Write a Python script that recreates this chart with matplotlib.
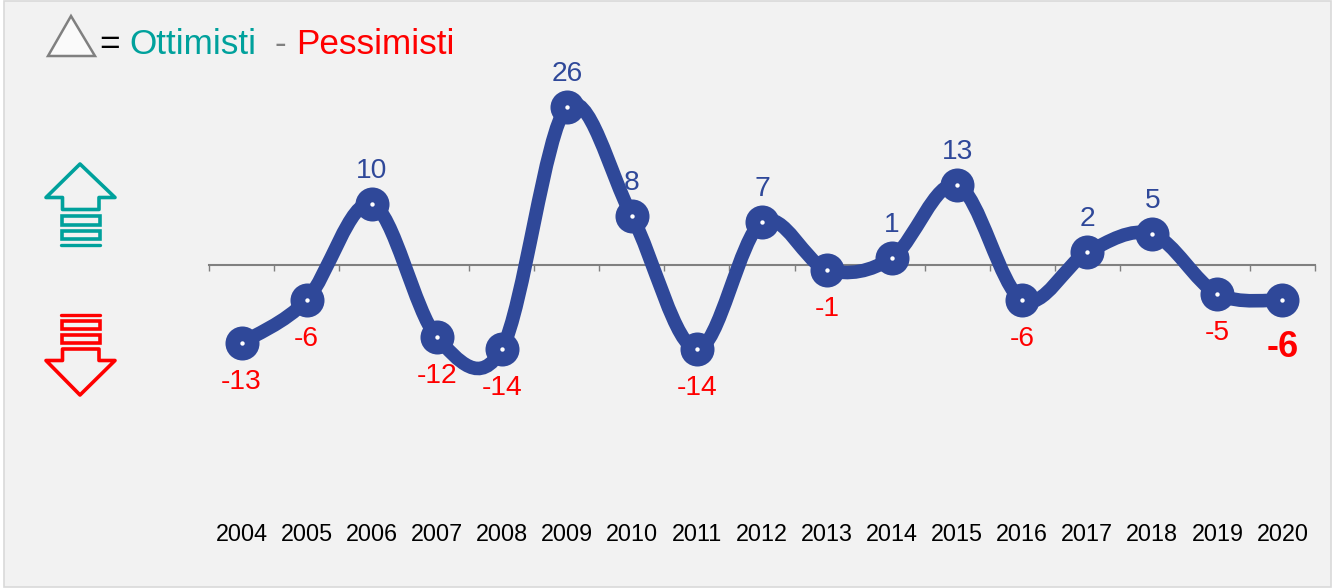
import matplotlib
matplotlib.use("Agg")
import matplotlib.pyplot as plt
from matplotlib.patches import PathPatch, Polygon, Rectangle
from matplotlib.path import Path

plt.rcParams['font.family'] = ['Liberation Sans', 'DejaVu Sans']

years = ['2004', '2005', '2006', '2007', '2008', '2009', '2010', '2011', '2012',
         '2013', '2014', '2015', '2016', '2017', '2018', '2019', '2020']
saldo = [-12.9, -5.8, 10.1, -11.9, -13.9, 26.1, 8.1, -13.9, 7.1,
         -0.8, 1.2, 13.2, -5.8, 2.1, 5.1, -4.8, -5.8]

BLUE = '#2F4899'
TEAL = '#00A19C'
RED = '#FF0000'
GRAY = '#808080'
BG = '#F2F2F2'
W, H = 1332, 588


def smooth_path(xs, ys):
    # excel style smoothed line, bezier segments through every point
    verts = [(xs[0], ys[0])]
    codes = [Path.MOVETO]
    n = len(xs)
    for i in range(n - 1):
        prev = max(i - 1, 0)
        nxt = min(i + 2, n - 1)
        c1 = (xs[i] + (xs[i + 1] - xs[prev]) / 6, ys[i] + (ys[i + 1] - ys[prev]) / 6)
        c2 = (xs[i + 1] - (xs[nxt] - xs[i]) / 6, ys[i + 1] - (ys[nxt] - ys[i]) / 6)
        verts += [c1, c2, (xs[i + 1], ys[i + 1])]
        codes += [Path.CURVE4] * 3
    return Path(verts, codes)


def main():
    fig = plt.figure(figsize=(W / 100, H / 100), dpi=100, facecolor='white')

    # pixel overlay for background and the little icons
    bg = fig.add_axes([0, 0, 1, 1], zorder=0)
    bg.set_xlim(0, W)
    bg.set_ylim(H, 0)
    bg.axis('off')
    bg.add_patch(Rectangle((3.5, 0.5), W - 4.5, H - 1.5, fc=BG, ec='#D9D9D9', lw=1.2))

    # triangle in the legend
    bg.add_patch(Polygon([(71, 16), (48, 56), (95, 56)], closed=True, fc='#FAFAFA', ec=GRAY, lw=1.8))

    # up arrow
    up = [(80, 164), (115, 197.5), (99, 197.5), (99, 209.5), (62.5, 209.5), (62.5, 197.5), (46, 197.5)]
    bg.add_patch(Polygon(up, closed=True, fc='none', ec=TEAL, lw=2.6, joinstyle='round'))
    bg.add_patch(Rectangle((62, 215.5), 38, 9, fc='none', ec=TEAL, lw=2.6))
    bg.add_patch(Rectangle((62, 231), 38, 7.5, fc='none', ec=TEAL, lw=2.6))
    bg.plot([61, 100], [244.5, 244.5], color=TEAL, lw=2.4, solid_capstyle='round')

    # down arrow
    down = [(80, 395), (115, 360.5), (99, 360.5), (99, 349), (62.5, 349), (62.5, 360.5), (46, 360.5)]
    bg.add_patch(Polygon(down, closed=True, fc='none', ec=RED, lw=2.6, joinstyle='round'))
    bg.add_patch(Rectangle((62, 321), 38, 8, fc='none', ec=RED, lw=2.6))
    bg.add_patch(Rectangle((62, 334.5), 38, 8.5, fc='none', ec=RED, lw=2.6))
    bg.plot([61, 100], [314.7, 314.7], color=RED, lw=2.4, solid_capstyle='round')

    # legend text
    bg.text(99, 54, '=', fontsize=25.3, color='black', va='baseline')
    bg.text(129, 54, 'Ottimisti', fontsize=25.3, color=TEAL, va='baseline')
    bg.text(274, 54, '-', fontsize=25.3, color=GRAY, va='baseline')
    bg.text(296, 54, 'Pessimisti', fontsize=25.3, color=RED, va='baseline')

    # chart, zero line sits at y=265 px, 6.05 px per unit
    ax = fig.add_axes([209 / W, 1 - 507 / H, (1315 - 209) / W, 484 / H], zorder=1)
    ax.patch.set_alpha(0)
    ax.set_xlim(-0.5, 16.5)
    ax.set_ylim(-40, 40)
    for side in ['top', 'left', 'right']:
        ax.spines[side].set_visible(False)
    ax.spines['bottom'].set_position(('data', 0))
    ax.spines['bottom'].set_color(GRAY)
    ax.spines['bottom'].set_linewidth(1.5)
    ax.set_yticks([])

    x = list(range(len(years)))
    ax.set_xticks([i - 0.5 for i in range(len(years) + 1)])
    ax.tick_params(axis='x', which='major', direction='out', length=4.5, width=1, color=GRAY, labelbottom=False)
    ax.set_xticks(x, minor=True)
    ax.set_xticklabels(years, minor=True, fontsize=16.8, color='black')
    ax.tick_params(axis='x', which='minor', length=0, pad=186)

    ax.add_patch(PathPatch(smooth_path(x, saldo), fc='none', ec=BLUE, lw=9.8, capstyle='round', zorder=3))
    ax.scatter(x, saldo, s=600, color=BLUE, linewidths=0, zorder=4, clip_on=False)
    ax.scatter(x, saldo, s=10, color='white', linewidths=0, zorder=5, clip_on=False)

    for i, v in enumerate(saldo):
        label = str(round(v))
        if i == len(saldo) - 1:
            ax.annotate(label, (i, v), xytext=(0, -31.3), textcoords='offset points', ha='center',
                        va='center_baseline', fontsize=26, fontweight='bold', color=RED, zorder=6)
        elif v > 0:
            ax.annotate(label, (i, v), xytext=(0, 26), textcoords='offset points', ha='center',
                        va='center_baseline', fontsize=20.3, color=BLUE, zorder=6)
        else:
            ax.annotate(label, (i, v), xytext=(0, -26), textcoords='offset points', ha='center',
                        va='center_baseline', fontsize=20.3, color=RED, zorder=6)

    fig.savefig('out.png', dpi=100)


if __name__ == "__main__":
    main()
